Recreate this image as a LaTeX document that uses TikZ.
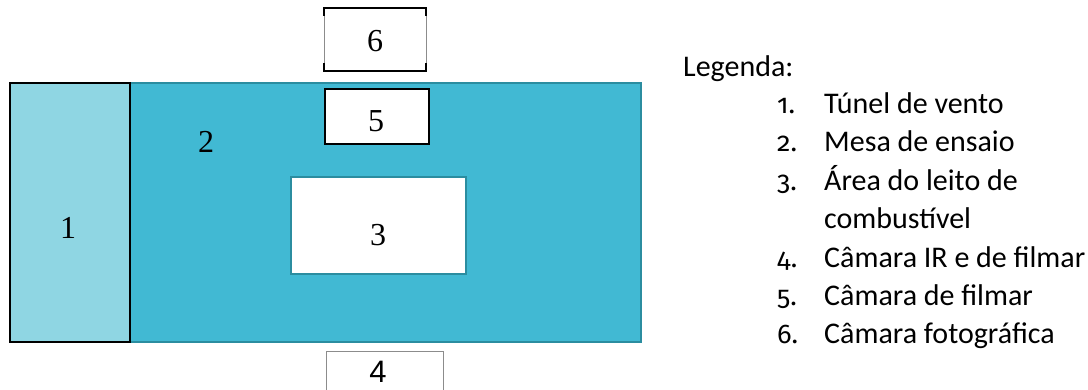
\documentclass[tikz,border=0pt]{standalone}
\usepackage{fontspec}
\setmainfont{Liberation Serif}
\newfontfamily\legfont{Carlito}
\newfontfamily\legnumfont[Numbers=OldStyle]{Fira Sans}
\newfontfamily\arialfont{Liberation Sans}
\definecolor{tunel}{HTML}{8FD6E3}
\definecolor{mesa}{HTML}{41B9D3}
\definecolor{mesaedge}{HTML}{2B8DA0}
\definecolor{grayedge}{HTML}{8C8C8C}
\tikzset{
  numlab/.style={font=\fontsize{32}{36}\selectfont, inner sep=0pt},
  leg/.style={font=\legfont\fontsize{30}{36}\selectfont, anchor=base west, inner sep=0pt},
  legnum/.style={font=\legnumfont\fontsize{27}{36}\selectfont, anchor=base west, inner sep=0pt},
}
\begin{document}
\begin{tikzpicture}[x=1pt,y=-1pt]
\useasboundingbox (0,0) rectangle (1088,390);
\clip (0,0) rectangle (1088,390);
% mesa de ensaio
\draw[fill=mesa, draw=mesaedge, line width=1.6pt] (130,83) rectangle (641,342);
% tunel de vento
\draw[fill=tunel, draw=black, line width=1.6pt] (10,83) rectangle (130,342);
% area do leito
\draw[fill=white, draw=mesaedge, line width=1.4pt] (291,177) rectangle (466,274);
% camara 5
\draw[fill=white, draw=black, line width=1.6pt] (325,89) rectangle (429,144);
% camara 6
\draw[draw=grayedge, line width=0.8pt] (324,8) -- (324,71) (426,8) -- (426,71);
\draw[draw=black, line width=1.6pt] (324,16) -- (324,8) -- (426,8) -- (426,16);
\draw[draw=black, line width=1.6pt] (324,63) -- (324,71) -- (426,71) -- (426,63);
% camara 4
\draw[draw=grayedge, line width=1pt] (326,395) -- (326,352) -- (443,352) -- (443,395);
% labels
\node[numlab] (l1) at (68,228) {1};
\node[numlab] (l2) at (206,142) {2};
\node[numlab] (l3) at (378,235) {3};
\node[numlab] (l5) at (376,121) {5};
\node[numlab] (l6) at (375,41) {6};
\node[numlab, font=\arialfont\fontsize{31}{36}\selectfont] (l4) at (378,372) {4};
% legend
\node[leg] (legt) at (683,77) {Legenda:};
\node[legnum] (n1) at (777,114) {1.};
\node[leg] (t1) at (824,114) {Túnel de vento};
\node[legnum] (n2) at (777,152) {2.};
\node[leg] (t2) at (824,152) {Mesa de ensaio};
\node[legnum] (n3) at (777,191) {3.};
\node[leg] (t3) at (824,191) {Área do leito de};
\node[leg] (t3b) at (824,229) {combustível};
\node[legnum] (n4) at (777,268) {4.};
\node[leg] (t4) at (824,268) {Câmara IR e de filmar};
\node[legnum] (n5) at (777,306) {5.};
\node[leg] (t5) at (824,306) {Câmara de filmar};
\node[legnum] (n6) at (777,344) {6.};
\node[leg] (t6) at (824,344) {Câmara fotográfica};
\end{tikzpicture}
\end{document}
